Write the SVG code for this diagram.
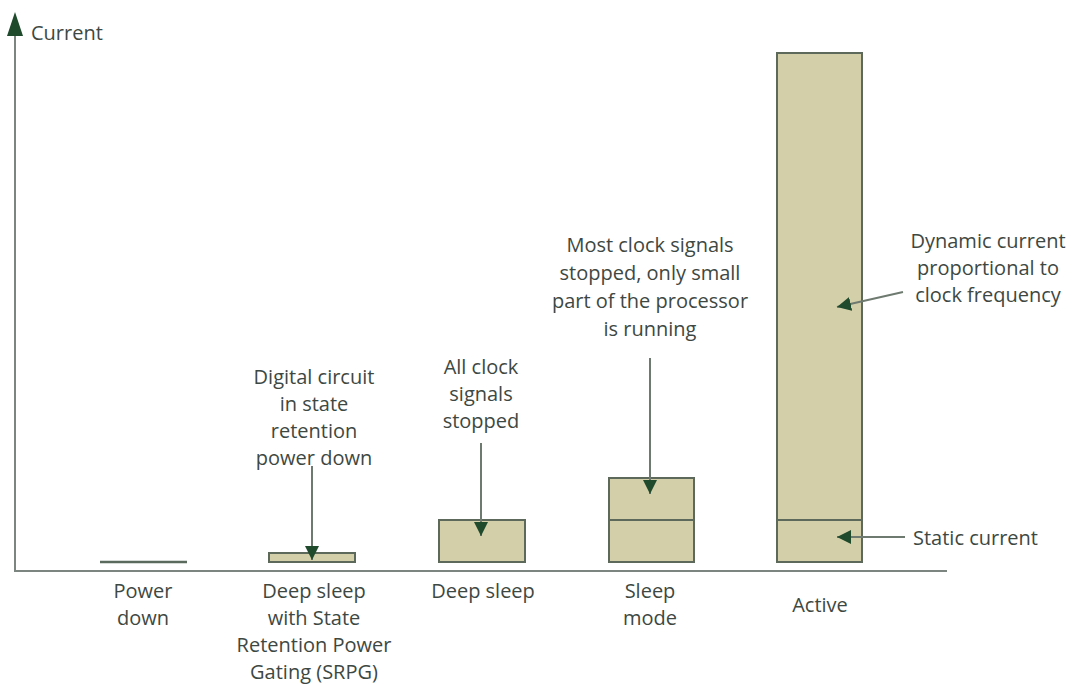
<svg xmlns="http://www.w3.org/2000/svg" width="1073" height="684" viewBox="0 0 1073 684">
<style>
.t{font-family:"Open Sans","Liberation Sans",sans-serif;font-size:20px;fill:#3e4842;text-anchor:middle}
.bar{fill:#d3cfa8;stroke:#5d695a;stroke-width:2}
.ax{stroke:#7d8580;stroke-width:2;fill:none}
.ar{stroke:#6e7a70;stroke-width:2;fill:none;marker-end:url(#ah)}
</style>
<defs>
<marker id="ah" markerUnits="userSpaceOnUse" markerWidth="16" markerHeight="16" refX="14" refY="7" orient="auto">
<path d="M0,0 L14,7 L0,14 Z" fill="#1f4a2c"/>
</marker>
</defs>
<rect width="1073" height="684" fill="#fff"/>
<g id="axes">
<line class="ax" x1="15" y1="30" x2="15" y2="572"/>
<line class="ax" x1="14" y1="571" x2="947" y2="571"/>
<path d="M15,12 L23,36 L7,36 Z" fill="#1f4a2c"/>
<text class="t" x="31" y="40" style="text-anchor:start">Current</text>
</g>
<g id="power-down">
<line x1="100" y1="562" x2="187" y2="562" stroke="#5a6b5e" stroke-width="2.5"/>
<text class="t" x="143" y="598">Power</text>
<text class="t" x="143" y="625">down</text>
</g>
<g id="srpg">
<rect class="bar" x="269" y="553" width="86" height="9"/>
<text class="t" x="314" y="598">Deep sleep</text>
<text class="t" x="314" y="625">with State</text>
<text class="t" x="314" y="652">Retention Power</text>
<text class="t" x="314" y="679">Gating (SRPG)</text>
<text class="t" x="314" y="384">Digital circuit</text>
<text class="t" x="314" y="411">in state</text>
<text class="t" x="314" y="438">retention</text>
<text class="t" x="314" y="465">power down</text>
</g>
<g id="deep-sleep">
<rect class="bar" x="439" y="520" width="86" height="42"/>
<text class="t" x="483" y="598">Deep sleep</text>
<text class="t" x="481" y="374">All clock</text>
<text class="t" x="481" y="401">signals</text>
<text class="t" x="481" y="428">stopped</text>
</g>
<g id="sleep-mode">
<rect class="bar" x="609" y="478" width="85" height="84"/>
<line x1="609" y1="520" x2="694" y2="520" stroke="#5d695a" stroke-width="2"/>
<text class="t" x="650" y="598">Sleep</text>
<text class="t" x="650" y="625">mode</text>
<text class="t" x="650" y="252">Most clock signals</text>
<text class="t" x="650" y="280">stopped, only small</text>
<text class="t" x="650" y="308">part of the processor</text>
<text class="t" x="650" y="336">is running</text>
</g>
<g id="active">
<rect class="bar" x="777" y="53" width="85" height="509"/>
<line x1="777" y1="520" x2="862" y2="520" stroke="#5d695a" stroke-width="2"/>
<text class="t" x="820" y="612">Active</text>
<text class="t" x="988" y="248">Dynamic current</text>
<text class="t" x="988" y="275">proportional to</text>
<text class="t" x="988" y="302">clock frequency</text>
<text class="t" x="913" y="545" style="text-anchor:start">Static current</text>
</g>
<g id="connectors">
<line class="ar" x1="312" y1="466" x2="312" y2="560"/>
<line class="ar" x1="481" y1="443" x2="481" y2="536"/>
<line class="ar" x1="650" y1="358" x2="650" y2="494"/>
<line class="ar" x1="903" y1="292" x2="837" y2="307"/>
<line class="ar" x1="905" y1="537" x2="837" y2="537"/>
</g>
</svg>
